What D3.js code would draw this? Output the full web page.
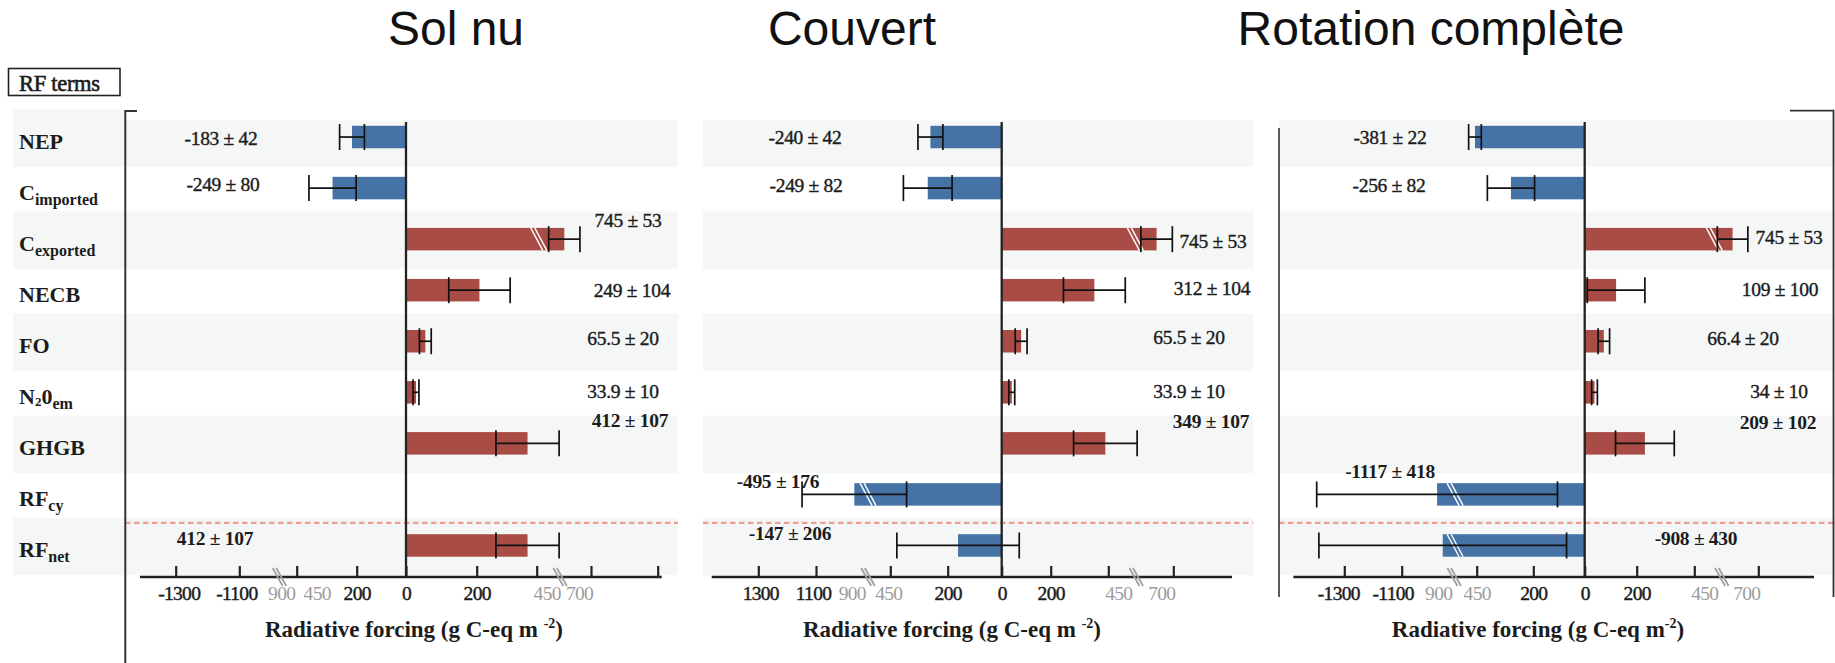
<!DOCTYPE html>
<html><head><meta charset="utf-8">
<script src="https://cdn.jsdelivr.net/npm/d3@7"></script>
<style>
body{margin:0;background:#fff}
svg{display:block}
</style></head><body>
<svg id="chart" width="1835" height="663"></svg>
<script>
// ---------------- DATA ----------------
const terms = ["NEP","C_imported","C_exported","NECB","FO","N2O_em","GHGB","RF_cy","RF_net"];
const termLabelParts = [
  [["NEP",0]],
  [["C",0],["imported",1]],
  [["C",0],["exported",1]],
  [["NECB",0]],
  [["FO",0]],
  [["N",0],["2",2],["0",0],["em",1]],
  [["GHGB",0]],
  [["RF",0],["cy",1]],
  [["RF",0],["net",1]]
];
const panelTitles = ["Sol nu","Couvert","Rotation complète"];

const solNuValues    = [-183, -249, 745, 249, 65.5, 33.9, 412, null, 412];
const solNuErrors    = [42, 80, 53, 104, 20, 10, 107, null, 107];
const couvertValues  = [-240, -249, 745, 312, 65.5, 33.9, 349, -495, -147];
const couvertErrors  = [42, 82, 53, 104, 20, 10, 107, 176, 206];
const rotationValues = [-381, -256, 745, 109, 66.4, 34, 209, -1117, -908];
const rotationErrors = [22, 82, 53, 100, 20, 10, 102, 418, 430];

const axisDomain = [-1300, -1100, -450, -200, 0, 200, 450, 700, 900];
const solNuTickValues    = [-1300, -1100, -450, -200, 0, 200, 450, 700, 900];
const solNuTickLabels    = ["-1300","-1100","450","200","0","200","450","700",""];
const couvertTickValues  = [-1300, -1100, -450, -200, 0, 200, 450, 700];
const couvertTickLabels  = ["1300","1100","450","200","0","200","450","700"];
const rotationTickValues = [-1300, -1100, -450, -200, 0, 200, 450, 700];
const rotationTickLabels = ["-1300","-1100","450","200","0","200","450","700"];
const breakTickLabel = "900";
const axisTitleMain = ["Radiative forcing (g C-eq m ", "Radiative forcing (g C-eq m ", "Radiative forcing (g C-eq m"];
const axisTitleSup = "-2";

// ---------------- LAYOUT ----------------
const serif = "'Liberation Serif','Times New Roman',serif";
const sans = "'Liberation Sans',Arial,sans-serif";
const RED = "#a84c45", BLUE = "#4673a6", BAND = "#f5f7f6", INK = "#1c1c1c", GREY = "#9c9c9c";
const axisY = 577, plotTop = 121, barH = 22.5, breakValue = 450;

const layout = [
  {zero:406, k:0.295, cPos:0.0866, cNeg:0.295, bandX:[125,678], axisX:[140,661.7], titleX:456, axisTitleX:414, Lx:221, Rx:627,
   axisOffsets:[-230.3,-166.7,-109.3,-49.3,0,70.7,130.7,185,251.7], greyDx:[-15,20], negDx:[3,-3],
   labels:[["L",0,1],["L",2,-4],["R",1,-19],["R",5,0],["R",-4,-3],["R",-4,-0.5],["R",3,-23],null,["L",-6,-7]]},
  {zero:1001.7, k:0.297, cPos:0.072, cNeg:0.305, bandX:[703,1253], axisX:[711.7,1232], titleX:852, axisTitleX:952, Lx:805, Rx:1212,
   axisOffsets:[-243.4,-185.7,-111.4,-54,0,49,106.6,171.6,230], greyDx:[-38,-2], negDx:[2,-3],
   labels:[["L",0,0.5],["L",1,-3],["R",1,2.5],["R",0,-2],["R",-23,-3.5],["R",-23,-0.5],["R",-1,-22],["L",-27,-13],["L",-15,-11.5]]},
  {zero:1584.7, k:0.288, cPos:0.062, cNeg:0.027, bandX:[1279,1835], axisX:[1293.4,1814], titleX:1431, axisTitleX:1538, Lx:1390, Rx:1780,
   axisOffsets:[-240.4,-183,-108,-51.4,0,52,109.6,173.6,229], greyDx:[-38,0], negDx:[-6,-9],
   labels:[["L",0,0.5],["L",-1,-3],["R",9,-2],["R",0,-1],["R",-37,-3],["R",-1,-0.5],["R",-2,-20.5],["L",0,-23],["R",-84,-7]]}
];

const panels = [
  {title:panelTitles[0], values:solNuValues, errors:solNuErrors, tickValues:solNuTickValues, tickLabels:solNuTickLabels},
  {title:panelTitles[1], values:couvertValues, errors:couvertErrors, tickValues:couvertTickValues, tickLabels:couvertTickLabels},
  {title:panelTitles[2], values:rotationValues, errors:rotationErrors, tickValues:rotationTickValues, tickLabels:rotationTickLabels}
];

const svg = d3.select("#chart");
const rowScale = d3.scaleBand().domain(terms).range([111.5, 571]);
const yc = t => rowScale(t) + rowScale.bandwidth() / 2;

// label column band + header box
const gBg = svg.append("g");
terms.forEach((t, r) => {
  if (r % 2 === 0) {
    const c = yc(t) + 1;
    gBg.append("rect").attr("x", 13).attr("width", 125 - 13)
      .attr("y", c - 28.75).attr("height", 57.5).attr("fill", BAND);
  }
});
svg.append("rect").attr("x", 8.5).attr("y", 68.5).attr("width", 111.5).attr("height", 27)
  .attr("fill", "#fff").attr("stroke", "#222").attr("stroke-width", 1.6);
svg.append("text").attr("x", 19).attr("y", 90.5).attr("font-family", serif)
  .attr("font-size", 22.5).attr("fill", INK).attr("stroke", INK).attr("stroke-width", 0.6)
  .attr("letter-spacing", -0.3).text("RF terms");

// row labels
terms.forEach((t, r) => {
  const txt = svg.append("text").attr("x", 19).attr("y", yc(t) + 4)
    .attr("dominant-baseline", "central").attr("font-family", serif)
    .attr("font-weight", "bold").attr("font-size", 22).attr("fill", INK);
  let shifted = 0;
  termLabelParts[r].forEach(([s, kind]) => {
    const off = kind === 1 ? 7 : kind === 2 ? 5 : 0;
    const ts = txt.append("tspan").text(s).attr("dy", off - shifted);
    if (kind === 1) ts.attr("font-size", 16);
    if (kind === 2) ts.attr("font-size", 13);
    shifted = off;
  });
});

panels.forEach((pd, i) => {
  const L = layout[i];
  const g = svg.append("g");
  const xb = d3.scaleLinear()
    .domain([-2000, -breakValue, 0, breakValue, 2000])
    .range([L.zero - breakValue * L.k - (2000 - breakValue) * L.cNeg, L.zero - breakValue * L.k, L.zero,
            L.zero + breakValue * L.k, L.zero + breakValue * L.k + (2000 - breakValue) * L.cPos]);
  const xa = d3.scaleLinear().domain(axisDomain).range(L.axisOffsets.map(o => L.zero + o));
  const rows = terms.map((t, r) => ({t, r, v: pd.values[r], e: pd.errors[r]}));
  const drawn = rows.filter(d => d.v != null);

  // bands
  rows.filter(d => d.r % 2 === 0).forEach(d => {
    const c = yc(d.t) + 1;
    const top = Math.max(c - 28.75, plotTop - 0.5);
    g.append("rect").attr("x", L.bandX[0]).attr("width", L.bandX[1] - L.bandX[0])
      .attr("y", top).attr("height", c + 28.75 - top).attr("fill", BAND);
  });

  // dashed separator before RF_net
  const sepY = rowScale("RF_net") + 3;
  g.append("line").attr("x1", L.bandX[0]).attr("x2", L.bandX[1]).attr("y1", sepY).attr("y2", sepY)
    .attr("stroke", "#ee9f94").attr("stroke-width", 2.2).attr("stroke-dasharray", "5.5,3.5");

  // title
  svg.append("text").attr("x", L.titleX).attr("y", 45).attr("text-anchor", "middle")
    .attr("font-family", sans).attr("font-size", 48).attr("fill", "#111").text(pd.title);

  // bars
  g.selectAll("rect.bar").data(drawn).join("rect").attr("class", "bar")
    .attr("x", d => Math.min(xb(0), xb(d.v)))
    .attr("width", d => Math.abs(xb(d.v) - xb(0)))
    .attr("y", d => yc(d.t) - barH / 2).attr("height", barH)
    .attr("fill", d => d.v < 0 ? BLUE : RED);

  // bar break marks
  drawn.filter(d => Math.abs(d.v) > breakValue).forEach(d => {
    const bx = xb(Math.sign(d.v) * breakValue);
    [-2, 2].forEach(o => {
      g.append("line").attr("x1", bx - 6 + o).attr("x2", bx + 6 + o)
        .attr("y1", yc(d.t) - barH / 2).attr("y2", yc(d.t) + barH / 2)
        .attr("stroke", "#fff").attr("stroke-width", 1.4);
    });
  });

  // zero line
  g.append("line").attr("x1", xb(0)).attr("x2", xb(0)).attr("y1", plotTop + 1).attr("y2", axisY)
    .attr("stroke", "#222").attr("stroke-width", 2.3);

  // error bars
  const eb = g.selectAll("g.err").data(drawn).join("g").attr("class", "err")
    .attr("stroke", "#111").attr("stroke-width", 1.7);
  eb.append("line").attr("x1", d => xb(d.v) - d.e * L.k).attr("x2", d => xb(d.v) + d.e * L.k)
    .attr("y1", d => yc(d.t)).attr("y2", d => yc(d.t));
  [-1, 1].forEach(s => {
    eb.append("line").attr("x1", d => xb(d.v) + s * d.e * L.k).attr("x2", d => xb(d.v) + s * d.e * L.k)
      .attr("y1", d => yc(d.t) - 13).attr("y2", d => yc(d.t) + 13);
  });

  // axis
  g.append("line").attr("x1", L.axisX[0]).attr("x2", L.axisX[1]).attr("y1", axisY).attr("y2", axisY)
    .attr("stroke", "#222").attr("stroke-width", 2.6);
  const axis = d3.axisBottom(xa).tickValues(pd.tickValues).tickSize(-11).tickPadding(9)
    .tickFormat((d, j) => pd.tickLabels[j]);
  const ag = g.append("g").attr("transform", `translate(0,${axisY})`).call(axis);
  ag.select(".domain").remove();
  ag.selectAll(".tick line").attr("stroke", "#222").attr("stroke-width", 2.2);
  const isGrey = d => Math.abs(d) >= 450 && Math.abs(d) < 1100;
  ag.selectAll(".tick text").attr("font-family", serif).attr("font-size", 19.5).attr("letter-spacing", -0.7)
    .attr("fill", d => isGrey(d) ? GREY : INK)
    .attr("stroke", d => isGrey(d) ? "none" : INK).attr("stroke-width", 0.45)
    .attr("dx", d => d === 450 ? 10 : d === 700 ? -12 : d === -450 ? L.greyDx[1]
                : d === -1300 ? L.negDx[0] : d === -1100 ? L.negDx[1] : 0);
  ag.append("text").attr("x", xa(-450) + L.greyDx[0]).attr("y", 9).attr("dy", "0.71em")
    .attr("text-anchor", "middle").attr("font-family", serif).attr("font-size", 19.5).attr("letter-spacing", -0.7)
    .attr("fill", GREY).text(breakTickLabel);

  // axis break marks
  const lb = xa(-1100) + 0.7 * (xa(-450) - xa(-1100));
  const rb = xa(450) + 0.43 * (xa(700) - xa(450));
  [lb, rb].forEach(bx => {
    [-1.8, 1.8].forEach(o => {
      g.append("line").attr("x1", bx - 5 + o).attr("x2", bx + 5 + o)
        .attr("y1", axisY - 9).attr("y2", axisY + 9)
        .attr("stroke", "#a0a0a0").attr("stroke-width", 1.8);
    });
  });

  // axis title
  const at = g.append("text").attr("x", L.axisTitleX).attr("y", 637).attr("text-anchor", "middle")
    .attr("font-family", serif).attr("font-size", 23).attr("font-weight", "bold").attr("fill", INK);
  at.append("tspan").text(axisTitleMain[i]);
  at.append("tspan").text(axisTitleSup).attr("font-size", 14).attr("dy", -9);
  at.append("tspan").text(")").attr("dy", 9);

  // value labels
  drawn.forEach(d => {
    const lab = L.labels[d.r];
    if (!lab) return;
    const x = (lab[0] === "L" ? L.Lx : L.Rx) + lab[1];
    const bold = d.r >= 6;
    g.append("text").attr("x", x).attr("y", yc(d.t) + lab[2])
      .attr("text-anchor", "middle").attr("dominant-baseline", "central")
      .attr("font-family", serif).attr("font-size", 19.5).attr("letter-spacing", -0.3)
      .attr("font-weight", bold ? "bold" : "normal").attr("fill", INK)
      .attr("stroke", bold ? "none" : INK).attr("stroke-width", 0.4)
      .text(`${d.v} ± ${d.e}`);
  });
});

// frame brackets
svg.append("path").attr("d", "M137,111H125.3V663").attr("fill", "none").attr("stroke", "#333").attr("stroke-width", 2);
svg.append("path").attr("d", "M1279,128V597").attr("fill", "none").attr("stroke", "#333").attr("stroke-width", 1.6);
svg.append("path").attr("d", "M1790,110.7H1833.5V597").attr("fill", "none").attr("stroke", "#333").attr("stroke-width", 1.8);
</script>
</body></html>
